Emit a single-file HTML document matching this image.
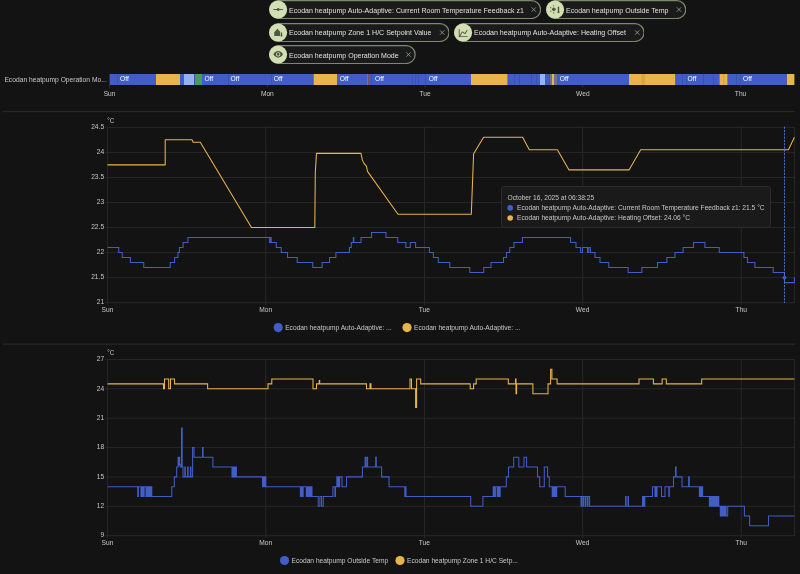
<!DOCTYPE html><html><head><meta charset="utf-8"><style>
html,body{margin:0;padding:0;background:#131313;width:800px;height:574px;overflow:hidden;font-family:"Liberation Sans", sans-serif;}
#root{position:absolute;left:0;top:0;width:800px;height:574px;will-change:transform;}
.abs{position:absolute;}
.chip{position:absolute;height:19.2px;}
.chip .ic{position:absolute;left:-1px;top:-0.5px;width:18px;height:18px;border-radius:50%;background:#d3dfb3;}
.chip .t{position:absolute;left:20.6px;top:2.5px;line-height:16px;font-size:7.47px;color:#e0e0e0;white-space:nowrap;transform:scaleX(0.9434);transform-origin:0 50%;}
.chip .x{position:absolute;top:0;line-height:18px;font-size:9px;color:#bbb;}
svg text{font-family:"Liberation Sans", sans-serif;}
</style></head><body><div id="root">

<div class="chip" style="left:268.75px;top:0.00px;width:272.25px"><svg class="abs" style="left:0;top:0" width="272.25" height="19.2" viewBox="0 0 272.25 19.2"><rect x="0.6" y="0.6" width="271.05" height="17.9" rx="8.95" fill="#1a1a1a" stroke="#7e886d" stroke-width="1.2"/><circle cx="9.05" cy="9.55" r="9.05" fill="#d3dfb3"/><g transform="translate(0.05 0.55)"><path d="M4.3 9H13.8" stroke="#4d5843" stroke-width="1"/><circle cx="9" cy="9" r="1.5" fill="#4d5843"/></g><path transform="translate(264.85 9.55)" d="M-2.2 -2.2L2.2 2.2M2.2 -2.2L-2.2 2.2" stroke="#a8a8a8" stroke-width="0.75"/></svg><div class="t">Ecodan heatpump Auto-Adaptive: Current Room Temperature Feedback z1</div></div>
<div class="chip" style="left:545.60px;top:0.00px;width:140.40px"><svg class="abs" style="left:0;top:0" width="140.40" height="19.2" viewBox="0 0 140.40 19.2"><rect x="0.6" y="0.6" width="139.20" height="17.9" rx="8.95" fill="#1a1a1a" stroke="#7e886d" stroke-width="1.2"/><circle cx="9.05" cy="9.55" r="9.05" fill="#d3dfb3"/><g transform="translate(0.05 0.55)"><circle cx="7.75" cy="8.8" r="1.8" fill="#4d5843"/><g fill="#4d5843"><circle cx="7.6" cy="5.3" r="0.6"/><circle cx="7.6" cy="12.4" r="0.6"/><circle cx="4.7" cy="7.1" r="0.6"/><circle cx="4.7" cy="10.6" r="0.6"/></g><rect x="11.7" y="6" width="1.4" height="5.6" rx="0.7" fill="#4d5843"/><circle cx="12.4" cy="11.7" r="1.05" fill="#4d5843"/></g><path transform="translate(133.00 9.55)" d="M-2.2 -2.2L2.2 2.2M2.2 -2.2L-2.2 2.2" stroke="#a8a8a8" stroke-width="0.75"/></svg><div class="t">Ecodan heatpump Outside Temp</div></div>
<div class="chip" style="left:268.75px;top:22.50px;width:180.65px"><svg class="abs" style="left:0;top:0" width="180.65" height="19.2" viewBox="0 0 180.65 19.2"><rect x="0.6" y="0.6" width="179.45" height="17.9" rx="8.95" fill="#1a1a1a" stroke="#7e886d" stroke-width="1.2"/><circle cx="9.05" cy="9.55" r="9.05" fill="#d3dfb3"/><g transform="translate(0.05 0.55)"><path d="M5.15 12.4V8.7L8.35 5.2L11.1 8.3V12.4Z" fill="#4d5843"/><rect x="11.85" y="8.8" width="1.2" height="3.4" rx="0.6" fill="#4d5843"/><circle cx="12.45" cy="12.1" r="0.95" fill="#4d5843"/></g><path transform="translate(173.25 9.55)" d="M-2.2 -2.2L2.2 2.2M2.2 -2.2L-2.2 2.2" stroke="#a8a8a8" stroke-width="0.75"/></svg><div class="t">Ecodan heatpump Zone 1 H/C Setpoint Value</div></div>
<div class="chip" style="left:453.75px;top:22.50px;width:190.65px"><svg class="abs" style="left:0;top:0" width="190.65" height="19.2" viewBox="0 0 190.65 19.2"><rect x="0.6" y="0.6" width="189.45" height="17.9" rx="8.95" fill="#1a1a1a" stroke="#7e886d" stroke-width="1.2"/><circle cx="9.05" cy="9.55" r="9.05" fill="#d3dfb3"/><g transform="translate(0.05 0.55)"><path transform="translate(3.76 4.17) scale(0.445)" d="M16,11.78L20.24,4.45L21.97,5.45L16.74,14.5L10.23,10.75L5.46,19H22V21H2V3H4V17.54L9.5,8L16,11.78Z" fill="#4d5843"/></g><path transform="translate(183.25 9.55)" d="M-2.2 -2.2L2.2 2.2M2.2 -2.2L-2.2 2.2" stroke="#a8a8a8" stroke-width="0.75"/></svg><div class="t">Ecodan heatpump Auto-Adaptive: Heating Offset</div></div>
<div class="chip" style="left:268.75px;top:45.00px;width:146.85px"><svg class="abs" style="left:0;top:0" width="146.85" height="19.2" viewBox="0 0 146.85 19.2"><rect x="0.6" y="0.6" width="145.65" height="17.9" rx="8.95" fill="#1a1a1a" stroke="#7e886d" stroke-width="1.2"/><circle cx="9.05" cy="9.55" r="9.05" fill="#d3dfb3"/><g transform="translate(0.05 0.55)"><path transform="translate(3.82 3.52) scale(0.44)" d="M12,9A3,3 0 0,0 9,12A3,3 0 0,0 12,15A3,3 0 0,0 15,12A3,3 0 0,0 12,9M12,17A5,5 0 0,1 7,12A5,5 0 0,1 12,7A5,5 0 0,1 17,12A5,5 0 0,1 12,17M12,4.5C7,4.5 2.73,7.61 1,12C2.73,16.39 7,19.5 12,19.5C17,19.5 21.27,16.39 23,12C21.27,7.61 17,4.5 12,4.5Z" fill="#4d5843"/></g><path transform="translate(139.45 9.55)" d="M-2.2 -2.2L2.2 2.2M2.2 -2.2L-2.2 2.2" stroke="#a8a8a8" stroke-width="0.75"/></svg><div class="t">Ecodan heatpump Operation Mode</div></div>
<svg class="abs" style="left:0;top:0" width="800" height="574" viewBox="0 0 800 574">
<text x="4.4" y="81.8" font-size="7.10" textLength="102.42" lengthAdjust="spacingAndGlyphs" fill="#c8c8c8">Ecodan heatpump Operation Mo...</text>
<rect x="109.6" y="74" width="46.40" height="11" fill="#405ec6"/>
<rect x="156" y="74" width="24.00" height="11" fill="#e8b44c"/>
<rect x="180" y="74" width="4.00" height="11" fill="#405ec6"/>
<rect x="184" y="74" width="10.30" height="11" fill="#98b4ee"/>
<rect x="194.3" y="74" width="0.70" height="11" fill="#405ec6"/>
<rect x="195" y="74" width="7.00" height="11" fill="#489d5c"/>
<rect x="202" y="74" width="111.50" height="11" fill="#405ec6"/>
<rect x="313.5" y="74" width="23.50" height="11" fill="#e8b44c"/>
<rect x="337" y="74" width="30.00" height="11" fill="#405ec6"/>
<rect x="367" y="74" width="1.75" height="11" fill="#c0603c"/>
<rect x="368.75" y="74" width="102.25" height="11" fill="#405ec6"/>
<rect x="471" y="74" width="36.75" height="11" fill="#e8b44c"/>
<rect x="507.75" y="74" width="32.25" height="11" fill="#405ec6"/>
<rect x="540" y="74" width="5.00" height="11" fill="#98b4ee"/>
<rect x="545" y="74" width="4.40" height="11" fill="#405ec6"/>
<rect x="549.4" y="74" width="2.50" height="11" fill="#6b7590"/>
<rect x="551.9" y="74" width="2.10" height="11" fill="#e8b44c"/>
<rect x="554" y="74" width="3.75" height="11" fill="#6b7590"/>
<rect x="557.75" y="74" width="71.25" height="11" fill="#405ec6"/>
<rect x="629" y="74" width="46.60" height="11" fill="#e8b44c"/>
<rect x="675.6" y="74" width="43.80" height="11" fill="#405ec6"/>
<rect x="719.4" y="74" width="8.35" height="11" fill="#e8b44c"/>
<rect x="727.75" y="74" width="59.15" height="11" fill="#405ec6"/>
<rect x="786.9" y="74" width="7.50" height="11" fill="#e8b44c"/>
<rect x="117.00" y="74" width="0.8" height="11" fill="#3550b0"/>
<rect x="228.00" y="74" width="0.8" height="11" fill="#3550b0"/>
<rect x="271.00" y="74" width="0.8" height="11" fill="#3550b0"/>
<rect x="371.00" y="74" width="0.8" height="11" fill="#3550b0"/>
<rect x="412.00" y="74" width="0.8" height="11" fill="#3550b0"/>
<rect x="415.00" y="74" width="0.8" height="11" fill="#3550b0"/>
<rect x="418.00" y="74" width="0.8" height="11" fill="#3550b0"/>
<rect x="425.00" y="74" width="0.8" height="11" fill="#3550b0"/>
<rect x="514.00" y="74" width="0.8" height="11" fill="#3550b0"/>
<rect x="519.00" y="74" width="0.8" height="11" fill="#3550b0"/>
<rect x="531.00" y="74" width="0.8" height="11" fill="#3550b0"/>
<rect x="536.00" y="74" width="0.8" height="11" fill="#3550b0"/>
<rect x="682.00" y="74" width="0.8" height="11" fill="#3550b0"/>
<rect x="686.00" y="74" width="0.8" height="11" fill="#3550b0"/>
<rect x="703.00" y="74" width="0.8" height="11" fill="#3550b0"/>
<rect x="713.00" y="74" width="0.8" height="11" fill="#3550b0"/>
<rect x="736.00" y="74" width="0.8" height="11" fill="#3550b0"/>
<rect x="740.00" y="74" width="0.8" height="11" fill="#3550b0"/>
<rect x="641.25" y="74" width="3.75" height="11" fill="#d9a640"/>
<rect x="723" y="74" width="1.2" height="11" fill="#d9a640"/>
<text x="120" y="81.3" font-size="7.53" textLength="8.80" lengthAdjust="spacingAndGlyphs" fill="#ffffff">Off</text>
<text x="204.4" y="81.3" font-size="7.53" textLength="8.80" lengthAdjust="spacingAndGlyphs" fill="#ffffff">Off</text>
<text x="230.6" y="81.3" font-size="7.53" textLength="8.80" lengthAdjust="spacingAndGlyphs" fill="#ffffff">Off</text>
<text x="273.75" y="81.3" font-size="7.53" textLength="8.80" lengthAdjust="spacingAndGlyphs" fill="#ffffff">Off</text>
<text x="339.75" y="81.3" font-size="7.53" textLength="8.80" lengthAdjust="spacingAndGlyphs" fill="#ffffff">Off</text>
<text x="375" y="81.3" font-size="7.53" textLength="8.80" lengthAdjust="spacingAndGlyphs" fill="#ffffff">Off</text>
<text x="428.75" y="81.3" font-size="7.53" textLength="8.80" lengthAdjust="spacingAndGlyphs" fill="#ffffff">Off</text>
<text x="559.75" y="81.3" font-size="7.53" textLength="8.80" lengthAdjust="spacingAndGlyphs" fill="#ffffff">Off</text>
<text x="687.5" y="81.3" font-size="7.53" textLength="8.80" lengthAdjust="spacingAndGlyphs" fill="#ffffff">Off</text>
<text x="743.1" y="81.3" font-size="7.53" textLength="8.80" lengthAdjust="spacingAndGlyphs" fill="#ffffff">Off</text>
<rect x="109.25" y="85" width="0.7" height="2.5" fill="#3a3a3a"/>
<text x="109.60" y="95.6" font-size="7.05" textLength="11.83" lengthAdjust="spacingAndGlyphs" fill="#c8c8c8" text-anchor="middle">Sun</text>
<rect x="267.00" y="85" width="0.7" height="2.5" fill="#3a3a3a"/>
<text x="267.35" y="95.6" font-size="7.05" textLength="12.94" lengthAdjust="spacingAndGlyphs" fill="#c8c8c8" text-anchor="middle">Mon</text>
<rect x="424.75" y="85" width="0.7" height="2.5" fill="#3a3a3a"/>
<text x="425.10" y="95.6" font-size="7.05" textLength="11.21" lengthAdjust="spacingAndGlyphs" fill="#c8c8c8" text-anchor="middle">Tue</text>
<rect x="582.50" y="85" width="0.7" height="2.5" fill="#3a3a3a"/>
<text x="582.85" y="95.6" font-size="7.05" textLength="13.55" lengthAdjust="spacingAndGlyphs" fill="#c8c8c8" text-anchor="middle">Wed</text>
<rect x="740.25" y="85" width="0.7" height="2.5" fill="#3a3a3a"/>
<text x="740.60" y="95.6" font-size="7.05" textLength="11.46" lengthAdjust="spacingAndGlyphs" fill="#c8c8c8" text-anchor="middle">Thu</text>
<rect x="3" y="110.9" width="792.2" height="1.3" fill="#272727"/>
<rect x="3" y="343.5" width="792.2" height="1.3" fill="#272727"/>
<rect x="105" y="126.90" width="689.6" height="0.95" fill="#282828"/>
<text x="104.1" y="129.10" font-size="7.05" textLength="12.94" lengthAdjust="spacingAndGlyphs" fill="#c8c8c8" text-anchor="end">24.5</text>
<rect x="105" y="151.95" width="689.6" height="0.95" fill="#282828"/>
<text x="104.1" y="154.15" font-size="7.05" textLength="7.40" lengthAdjust="spacingAndGlyphs" fill="#c8c8c8" text-anchor="end">24</text>
<rect x="105" y="177.00" width="689.6" height="0.95" fill="#282828"/>
<text x="104.1" y="179.20" font-size="7.05" textLength="12.94" lengthAdjust="spacingAndGlyphs" fill="#c8c8c8" text-anchor="end">23.5</text>
<rect x="105" y="202.05" width="689.6" height="0.95" fill="#282828"/>
<text x="104.1" y="204.25" font-size="7.05" textLength="7.40" lengthAdjust="spacingAndGlyphs" fill="#c8c8c8" text-anchor="end">23</text>
<rect x="105" y="227.10" width="689.6" height="0.95" fill="#282828"/>
<text x="104.1" y="229.30" font-size="7.05" textLength="12.94" lengthAdjust="spacingAndGlyphs" fill="#c8c8c8" text-anchor="end">22.5</text>
<rect x="105" y="252.15" width="689.6" height="0.95" fill="#282828"/>
<text x="104.1" y="254.35" font-size="7.05" textLength="7.40" lengthAdjust="spacingAndGlyphs" fill="#c8c8c8" text-anchor="end">22</text>
<rect x="105" y="277.20" width="689.6" height="0.95" fill="#282828"/>
<text x="104.1" y="279.40" font-size="7.05" textLength="12.94" lengthAdjust="spacingAndGlyphs" fill="#c8c8c8" text-anchor="end">21.5</text>
<rect x="105" y="302.25" width="689.6" height="0.95" fill="#282828"/>
<text x="104.1" y="304.45" font-size="7.05" textLength="7.40" lengthAdjust="spacingAndGlyphs" fill="#c8c8c8" text-anchor="end">21</text>
<rect x="107.10" y="127" width="0.95" height="178" fill="#282828"/>
<text x="107.50" y="312.2" font-size="7.05" textLength="11.83" lengthAdjust="spacingAndGlyphs" fill="#c8c8c8" text-anchor="middle">Sun</text>
<rect x="265.30" y="127" width="0.95" height="178" fill="#282828"/>
<text x="265.70" y="312.2" font-size="7.05" textLength="12.94" lengthAdjust="spacingAndGlyphs" fill="#c8c8c8" text-anchor="middle">Mon</text>
<rect x="424.00" y="127" width="0.95" height="178" fill="#282828"/>
<text x="424.40" y="312.2" font-size="7.05" textLength="11.21" lengthAdjust="spacingAndGlyphs" fill="#c8c8c8" text-anchor="middle">Tue</text>
<rect x="582.20" y="127" width="0.95" height="178" fill="#282828"/>
<text x="582.60" y="312.2" font-size="7.05" textLength="13.55" lengthAdjust="spacingAndGlyphs" fill="#c8c8c8" text-anchor="middle">Wed</text>
<rect x="740.80" y="127" width="0.95" height="178" fill="#282828"/>
<text x="741.20" y="312.2" font-size="7.05" textLength="11.46" lengthAdjust="spacingAndGlyphs" fill="#c8c8c8" text-anchor="middle">Thu</text>
<rect x="794.1" y="127" width="0.95" height="176" fill="#282828"/>
<text x="107.3" y="122.5" font-size="7.05" textLength="6.90" lengthAdjust="spacingAndGlyphs" fill="#c8c8c8">°C</text>
<path d="M107.50 164.88 L165.20 164.88 L165.20 139.82 L192.00 139.82 L193.20 142.33 L200.30 142.33 L251.50 227.50 L314.80 227.50 L315.30 172.39 L316.50 153.35 L361.00 153.35 L362.30 159.86 L364.00 163.37 L366.50 166.38 L367.50 171.39 L398.00 214.22 L471.30 214.22 L473.60 153.85 L483.60 137.32 L522.60 137.32 L529.30 149.84 L557.40 149.84 L569.00 169.89 L629.00 169.89 L640.70 149.84 L788.40 149.84 L794.40 137.32" stroke="#e8b44c" stroke-width="1.05" fill="none" stroke-linejoin="round"/>
<path d="M107.50 247.54H118.75V252.55H122.25V257.56H130.40V262.57H143.75V267.58H170.25V262.57H174.60V257.56H177.90V252.55H179.40V247.54H183.10V242.53H187.90V237.52H269.40V242.53H270.60V237.52H271.20V242.53H276.25V247.54H281.25V252.55H287.50V257.56H297.25V262.57H312.75V267.58H322.10V262.57H329.60V257.56H335.90V252.55H349.40V247.54H351.25V242.53H353.30V237.52H353.80V242.53H361.00V237.52H371.50V232.51H386.00V237.52H397.75V242.53H405.90V247.54H410.25V242.53H415.60V247.54H429.40V252.55H433.40V257.56H438.30V262.57H449.75V267.58H469.75V272.59H483.75V267.58H491.00V262.57H503.50V257.56H506.50V252.55H509.75V247.54H514.00V242.53H522.40V237.52H570.60V242.53H576.00V247.54H580.60V252.55H582.50V247.54H587.50V252.55H588.75V247.54H590.40V252.55H595.00V257.56H600.00V262.57H608.75V267.58H628.10V272.59H641.90V267.58H657.50V262.57H666.90V257.56H675.00V252.55H683.10V247.54H693.50V242.53H704.90V247.54H719.30V252.55H743.90V257.56H747.50V262.57H754.90V267.58H773.20V272.59H784.50V282.61H794.40V277.60H794.60" stroke="#405ec6" stroke-width="1.05" fill="none"/>
<path d="M784.5 126.6V303" stroke="#4a7cd4" stroke-width="0.9" stroke-dasharray="2.2 1.1"/>
<circle cx="784.5" cy="277.60" r="1.9" fill="#405ec6"/>
<rect x="105" y="359.00" width="689.6" height="0.95" fill="#282828"/>
<text x="104.1" y="361.20" font-size="7.05" textLength="7.40" lengthAdjust="spacingAndGlyphs" fill="#c8c8c8" text-anchor="end">27</text>
<rect x="105" y="388.37" width="689.6" height="0.95" fill="#282828"/>
<text x="104.1" y="390.57" font-size="7.05" textLength="7.40" lengthAdjust="spacingAndGlyphs" fill="#c8c8c8" text-anchor="end">24</text>
<rect x="105" y="417.74" width="689.6" height="0.95" fill="#282828"/>
<text x="104.1" y="419.94" font-size="7.05" textLength="7.40" lengthAdjust="spacingAndGlyphs" fill="#c8c8c8" text-anchor="end">21</text>
<rect x="105" y="447.11" width="689.6" height="0.95" fill="#282828"/>
<text x="104.1" y="449.31" font-size="7.05" textLength="7.40" lengthAdjust="spacingAndGlyphs" fill="#c8c8c8" text-anchor="end">18</text>
<rect x="105" y="476.48" width="689.6" height="0.95" fill="#282828"/>
<text x="104.1" y="478.68" font-size="7.05" textLength="7.40" lengthAdjust="spacingAndGlyphs" fill="#c8c8c8" text-anchor="end">15</text>
<rect x="105" y="505.85" width="689.6" height="0.95" fill="#282828"/>
<text x="104.1" y="508.05" font-size="7.05" textLength="7.40" lengthAdjust="spacingAndGlyphs" fill="#c8c8c8" text-anchor="end">12</text>
<rect x="105" y="535.22" width="689.6" height="0.95" fill="#282828"/>
<text x="104.1" y="537.42" font-size="7.05" textLength="3.70" lengthAdjust="spacingAndGlyphs" fill="#c8c8c8" text-anchor="end">9</text>
<rect x="107.10" y="359" width="0.95" height="179" fill="#282828"/>
<text x="107.50" y="545" font-size="7.05" textLength="11.83" lengthAdjust="spacingAndGlyphs" fill="#c8c8c8" text-anchor="middle">Sun</text>
<rect x="265.30" y="359" width="0.95" height="179" fill="#282828"/>
<text x="265.70" y="545" font-size="7.05" textLength="12.94" lengthAdjust="spacingAndGlyphs" fill="#c8c8c8" text-anchor="middle">Mon</text>
<rect x="424.00" y="359" width="0.95" height="179" fill="#282828"/>
<text x="424.40" y="545" font-size="7.05" textLength="11.21" lengthAdjust="spacingAndGlyphs" fill="#c8c8c8" text-anchor="middle">Tue</text>
<rect x="582.20" y="359" width="0.95" height="179" fill="#282828"/>
<text x="582.60" y="545" font-size="7.05" textLength="13.55" lengthAdjust="spacingAndGlyphs" fill="#c8c8c8" text-anchor="middle">Wed</text>
<rect x="740.80" y="359" width="0.95" height="179" fill="#282828"/>
<text x="741.20" y="545" font-size="7.05" textLength="11.46" lengthAdjust="spacingAndGlyphs" fill="#c8c8c8" text-anchor="middle">Thu</text>
<rect x="794.1" y="359" width="0.95" height="177" fill="#282828"/>
<text x="107.3" y="354.5" font-size="7.05" textLength="6.90" lengthAdjust="spacingAndGlyphs" fill="#c8c8c8">°C</text>
<path d="M107.50 383.88H163.50V388.77H164.50V378.98H168.70V388.77H170.50V378.98H174.50V383.88H207.60V388.77H268.00V383.88H271.80V378.98H313.00V388.77H316.50V383.88H319.20V380.45H319.70V383.88H366.50V388.77H370.00V383.88H371.00V388.77H410.00V378.98H411.50V388.77H415.60V407.37H416.60V378.98H420.70V383.88H470.20V388.77H473.60V383.88H476.20V378.98H508.30V383.88H515.50V378.98H516.00V393.66H516.60V383.88H532.90V393.66H548.00V383.88H550.60V369.19H551.90V378.98H557.10V383.88H639.00V378.98H653.40V383.88H662.10V378.98H666.30V383.88H701.70V378.98H794.40" stroke="#e8b44c" stroke-width="1.05" fill="none"/>
<path d="M107.50 486.67H137.70V496.46H138.40V486.67H140.90V496.46H141.36V486.67H141.82V496.46H142.29V486.67H142.75V496.46H143.21V486.67H143.68V496.46H144.14V486.67H144.60V486.67H146.00V496.46H146.58V486.67H147.16V496.46H147.74V486.67H148.32V496.46H148.90V486.67H149.48V496.46H150.06V486.67H150.64V496.46H151.22V486.67H151.80V496.46H171.80V486.67H174.30V476.88H176.70V467.09H178.10V457.30H178.70V465.13H179.10V457.30H179.60V464.15H180.20V467.09H181.50V427.93H182.20V467.09H183.00V476.88H184.80V467.09H185.30V476.88H187.60V467.09H188.10V476.88H190.40V467.09H190.90V476.88H192.60V447.51H194.00V457.30H202.50V447.51H203.10V457.30H212.90V467.09H232.00V476.88H232.73V467.09H233.47V476.88H234.20V467.09H234.93V476.88H235.67V467.09H236.40V476.88H262.50V486.67H263.05V476.88H263.60V486.67H264.15V476.88H264.70V486.67H265.25V476.88H265.80V486.67H300.40V496.46H300.96V486.67H301.52V496.46H302.08V486.67H302.64V496.46H303.20V486.67H306.30V496.46H307.01V486.67H307.73V496.46H308.44V486.67H309.15V496.46H309.86V486.67H310.57V496.46H311.29V486.67H312.00V496.46H318.20V506.25H319.90V496.46H321.60V506.25H323.30V496.46H332.90V486.67H334.90V496.46H335.50V486.67H336.90V476.88H337.60V486.67H338.20V476.88H339.00V486.67H339.60V476.88H342.00V486.67H346.50V476.88H362.40V467.09H365.10V457.30H365.70V467.09H367.00V457.30H367.60V467.09H375.70V457.30H376.30V467.09H381.60V476.88H389.00V486.67H404.80V496.46H405.40V486.67H406.00V496.46H470.70V506.25H482.90V496.46H492.70V496.46H493.24V486.67H493.78V496.46H494.32V486.67H494.86V496.46H495.40V486.67H497.20V496.46H497.80V486.67H498.40V496.46H499.00V486.67H499.60V496.46H500.20V486.67H506.30V476.88H508.50V467.09H513.70V457.30H518.80V467.09H524.00V457.30H526.60V467.09H537.50V476.88H539.70V486.67H544.30V467.09H547.60V476.88H549.30V486.67H552.20V496.46H552.84V486.67H553.49V496.46H554.13V486.67H554.77V496.46H555.41V486.67H556.06V496.46H556.70V486.67H565.20V496.46H581.00V506.25H581.60V496.46H583.00V506.25H583.60V496.46H585.20V506.25H585.80V496.46H587.40V506.25H588.00V496.46H589.60V506.25H625.60V496.46H626.10V506.25H628.00V496.46H628.50V506.25H642.50V496.46H643.10V506.25H643.70V496.46H644.30V506.25H644.80V496.46H652.50V486.67H655.00V496.46H655.70V486.67H656.30V496.46H657.00V486.67H661.50V496.46H665.00V486.67H668.80V496.46H669.30V486.67H673.50V476.88H675.50V467.09H676.10V476.88H682.00V486.67H688.60V476.88H689.30V486.67H699.40V496.46H699.93V486.67H700.47V496.46H701.00V486.67H701.53V496.46H702.07V486.67H702.60V496.46H709.40V506.25H709.99V496.46H710.57V506.25H711.16V496.46H711.75V506.25H712.34V496.46H712.92V506.25H713.51V496.46H714.10V506.25H714.69V496.46H715.27V506.25H715.86V496.46H716.45V506.25H717.04V496.46H717.62V506.25H718.21V496.46H718.80V506.25H720.30V516.04H720.88V506.25H721.46V516.04H722.04V506.25H722.62V516.04H723.20V506.25H723.78V516.04H724.36V506.25H724.94V516.04H725.52V506.25H726.10V516.04H727.70V506.25H744.40V516.04H749.60V525.83H768.50V516.04H794.40" stroke="#405ec6" stroke-width="1.05" fill="none"/>
<circle cx="278.2" cy="327.6" r="4.6" fill="#405ec6"/>
<text x="285.2" y="330.00" font-size="7.05" textLength="106.47" lengthAdjust="spacingAndGlyphs" fill="#c8c8c8">Ecodan heatpump Auto-Adaptive: ...</text>
<circle cx="407" cy="327.6" r="4.6" fill="#e8b44c"/>
<text x="414" y="330.00" font-size="7.05" textLength="106.47" lengthAdjust="spacingAndGlyphs" fill="#c8c8c8">Ecodan heatpump Auto-Adaptive: ...</text>
<circle cx="284.5" cy="560.5" r="4.6" fill="#405ec6"/>
<text x="291.5" y="562.90" font-size="7.05" textLength="96.73" lengthAdjust="spacingAndGlyphs" fill="#c8c8c8">Ecodan heatpump Outside Temp</text>
<circle cx="400" cy="560.5" r="4.6" fill="#e8b44c"/>
<text x="407" y="562.90" font-size="7.05" textLength="110.90" lengthAdjust="spacingAndGlyphs" fill="#c8c8c8">Ecodan heatpump Zone 1 H/C Setp...</text>
</svg>
<div class="abs" style="left:501.2px;top:186.2px;width:269.6px;height:42px;box-sizing:border-box;background:#1a1a1a;border:1px solid #2c2c2c;border-radius:3px;"></div>
<svg class="abs" style="left:0;top:0" width="800" height="574" viewBox="0 0 800 574">
<text x="507.6" y="200.3" font-size="7.05" textLength="86.52" lengthAdjust="spacingAndGlyphs" fill="#c8c8c8">October 16, 2025 at 06:38:25</text>
<circle cx="510.2" cy="207.9" r="2.8" fill="#405ec6"/>
<text x="517" y="210.3" font-size="7.05" textLength="247.62" lengthAdjust="spacingAndGlyphs" fill="#c8c8c8">Ecodan heatpump Auto-Adaptive: Current Room Temperature Feedback z1: 21.5 °C</text>
<circle cx="510.2" cy="218" r="2.8" fill="#e8b44c"/>
<text x="517" y="220.4" font-size="7.05" textLength="172.96" lengthAdjust="spacingAndGlyphs" fill="#c8c8c8">Ecodan heatpump Auto-Adaptive: Heating Offset: 24.06 °C</text>
</svg>

</div></body></html>
